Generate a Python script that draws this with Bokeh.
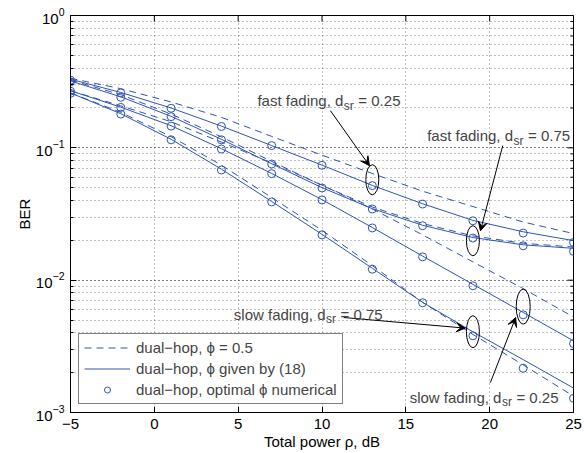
from bokeh.plotting import figure
from bokeh.models import (FixedTicker, LogTicker, Legend, LegendItem, Label,
                          Arrow, VeeHead)
from bokeh.embed import file_html
from bokeh.resources import INLINE

# ---------------- data ----------------
snr_db = [-5, -2, 1, 4, 7, 10, 13, 16, 19, 22, 25]

# fast fading, d_sr = 0.25
fast025_half = [0.335, 0.28, 0.222, 0.17, 0.122, 0.088, 0.064, 0.047, 0.036, 0.0275, 0.0225]
fast025_eq18 = [0.33, 0.262, 0.2, 0.146, 0.104, 0.074, 0.052, 0.0378, 0.0283, 0.0232, 0.0199]
fast025_opt = [0.325, 0.26, 0.199, 0.145, 0.104, 0.0738, 0.0518, 0.0376, 0.0281, 0.0227, 0.0193]

# fast fading, d_sr = 0.75
fast075_half = [0.325, 0.252, 0.18, 0.121, 0.079, 0.052, 0.0357, 0.0268, 0.0216, 0.019, 0.0178]
fast075_eq18 = [0.32, 0.243, 0.173, 0.116, 0.0758, 0.05, 0.0347, 0.026, 0.021, 0.0185, 0.0174]
fast075_opt = [0.315, 0.241, 0.172, 0.115, 0.0755, 0.0497, 0.0345, 0.0258, 0.0208, 0.0182, 0.0165]

# slow fading, d_sr = 0.25
slow025_half = [0.27, 0.2077, 0.1575, 0.1105, 0.0769, 0.0523, 0.0345, 0.022, 0.01375, 0.00863, 0.00527]
slow025_eq18 = [0.27, 0.203, 0.147, 0.0985, 0.064, 0.0406, 0.025, 0.0152, 0.0093, 0.0057, 0.00348]
slow025_opt = [0.268, 0.202, 0.146, 0.098, 0.0638, 0.0404, 0.0248, 0.0150, 0.00907, 0.00547, 0.00332]

# slow fading, d_sr = 0.75
slow075_half = [0.26, 0.1854, 0.1215, 0.074, 0.0421, 0.0238, 0.0129, 0.0068, 0.00389, 0.00229, 0.00133]
slow075_eq18 = [0.26, 0.181, 0.116, 0.069, 0.0393, 0.0222, 0.0123, 0.0068, 0.00407, 0.00251, 0.00153]
slow075_opt = [0.258, 0.180, 0.115, 0.068, 0.039, 0.022, 0.0121, 0.00675, 0.0038, 0.00216, 0.00128]

x_ticks = [-5, 0, 5, 10, 15, 20, 25]
x_tick_labels = ["\u22125", "0", "5", "10", "15", "20", "25"]
y_decades = [1e-3, 1e-2, 1e-1, 1.0]

legend_labels = ["dual\u2212hop, \u03d5 = 0.5",
                 "dual\u2212hop, \u03d5 given by (18)",
                 "dual\u2212hop, optimal \u03d5 numerical"]

# ---------------- layout ----------------
W, H = 584, 453
BL, BR, BT, BB = 70, 11, 15, 41
FRAME_W, FRAME_H = W - BL - BR, H - BT - BB
X0, X1 = -5, 25
PX_PER_DB = FRAME_W / (X1 - X0)
PX_PER_DEC = FRAME_H / 3.0

FONT = "Liberation Sans"
FS = "15px"
BLUE = "#2f54b4"
GRID = "#444444"

p = figure(width=W, height=H, x_range=(X0, X1), y_range=(1e-3, 1),
           y_axis_type="log", output_backend="svg", toolbar_location=None,
           min_border_left=BL, min_border_right=BR, min_border_top=BT,
           min_border_bottom=BB)
p.background_fill_color = "white"
p.border_fill_color = "white"
p.outline_line_color = "black"
p.outline_line_width = 1

# axes
p.xaxis.ticker = FixedTicker(ticks=x_ticks)
p.xaxis.major_label_overrides = {t: l for t, l in zip(x_ticks, x_tick_labels)}
p.yaxis.ticker = LogTicker(num_minor_ticks=10)
for ax in (p.xaxis, p.yaxis):
    ax.major_tick_in = 6
    ax.major_tick_out = 0
    ax.minor_tick_in = 3
    ax.minor_tick_out = 0
    ax.axis_line_color = "black"
    ax.major_tick_line_color = "black"
    ax.minor_tick_line_color = "black"
    ax.major_label_text_font = FONT
    ax.major_label_text_font_size = FS
    ax.major_label_text_color = "black"
    ax.axis_label_text_font = FONT
    ax.axis_label_text_font_size = FS
    ax.axis_label_text_font_style = "normal"
    ax.axis_label_text_color = "black"
p.xaxis.minor_tick_line_color = None
p.xaxis.axis_label = "Total power \u03c1, dB"
p.yaxis.axis_label = "BER"
p.xaxis.major_label_standoff = 6
p.xaxis.axis_label_standoff = 1
p.yaxis.major_label_standoff = 6
p.yaxis.axis_label_standoff = 0

# inward ticks on the top and right edges of the box
maj_dx = 6 / PX_PER_DB
min_dx = 3 / PX_PER_DB
right_major = y_decades
right_minor = [m * d for d in y_decades[:-1] for m in range(2, 10)]
p.segment(x0=[X1 - maj_dx] * len(right_major), x1=[X1] * len(right_major),
          y0=right_major, y1=right_major, line_color="black", line_width=1)
p.segment(x0=[X1 - min_dx] * len(right_minor), x1=[X1] * len(right_minor),
          y0=right_minor, y1=right_minor, line_color="black", line_width=1)
top_y0 = 10 ** (-6 / PX_PER_DEC)
p.segment(x0=x_ticks, x1=x_ticks, y0=[top_y0] * len(x_ticks), y1=[1.0] * len(x_ticks),
          line_color="black", line_width=1)

# grids
for g in (p.xgrid, p.ygrid):
    g.grid_line_color = GRID
    g.grid_line_dash = "1 3"
    g.grid_line_alpha = 0.65
p.ygrid.minor_grid_line_color = GRID
p.ygrid.minor_grid_line_dash = "1 3"
p.ygrid.minor_grid_line_alpha = 0.65

# ---------------- curves ----------------
scenarios = [
    (fast025_half, fast025_eq18, fast025_opt),
    (fast075_half, fast075_eq18, fast075_opt),
    (slow025_half, slow025_eq18, slow025_opt),
    (slow075_half, slow075_eq18, slow075_opt),
]
dash_r = sol_r = opt_r = None
for half, eq18, opt in scenarios:
    d = p.line(snr_db, half, line_color=BLUE, line_width=1, line_dash="7 5")
    s = p.line(snr_db, eq18, line_color=BLUE, line_width=1)
    o = p.scatter(snr_db, opt, marker="circle", size=8, fill_color=None,
                  line_color=BLUE, line_width=1)
    if dash_r is None:
        dash_r, sol_r, opt_r = d, s, o

# ---------------- annotations ----------------
p.ellipse(x=[13, 19, 19, 22], y=[0.0574, 0.01986, 0.00408, 0.00631],
          width=[13, 13, 13, 14], height=[30, 30, 32, 35],
          width_units="screen", height_units="screen",
          fill_color=None, line_color="black", line_width=1)

arrows = [
    (10.5, 0.191, 12.83, 0.0733),
    (20.78, 0.104, 19.45, 0.0236),
    (11.3, 0.00522, 18.55, 0.00434),
    (20.04, 0.00168, 21.55, 0.00522),
]
for xs, ys, xe, ye in arrows:
    p.add_layout(Arrow(end=VeeHead(size=9, fill_color="black", line_color="black",
                                   line_width=1),
                       x_start=xs, y_start=ys, x_end=xe, y_end=ye,
                       line_color="black", line_width=1))

texts = [
    (6.15, 0.2275, "fast fading, d", "= 0.25", 85.9),
    (16.27, 0.1237, "fast fading, d", "= 0.75", 85.9),
    (4.74, 0.00554, "slow fading, d", "= 0.75", 91.7),
    (15.23, 0.0013, "slow fading, d", "= 0.25", 91.7),
]
for tx, ty, base, rest, w in texts:
    p.add_layout(Label(x=tx, y=ty, text=base, text_font=FONT, text_font_size=FS,
                       text_baseline="alphabetic", text_align="left"))
    p.add_layout(Label(x=tx, y=ty, text="sr", text_font=FONT, text_font_size="12px",
                       text_baseline="alphabetic", text_align="left",
                       x_offset=w + 0.5, y_offset=-5))
    p.add_layout(Label(x=tx, y=ty, text=rest, text_font=FONT, text_font_size=FS,
                       text_baseline="alphabetic", text_align="left",
                       x_offset=w + 15))

# ---------------- legend ----------------
legend = Legend(items=[LegendItem(label=legend_labels[0], renderers=[dash_r]),
                       LegendItem(label=legend_labels[1], renderers=[sol_r]),
                       LegendItem(label=legend_labels[2], renderers=[opt_r])],
                location="bottom_left", margin=8, padding=5, spacing=4,
                glyph_width=46, glyph_height=15, label_height=15,
                label_standoff=6, label_text_font=FONT, label_text_font_size=FS,
                border_line_color="black", border_line_width=1,
                background_fill_color="white", background_fill_alpha=1)
p.add_layout(legend)

open("out.html", "w").write(file_html(p, INLINE))
